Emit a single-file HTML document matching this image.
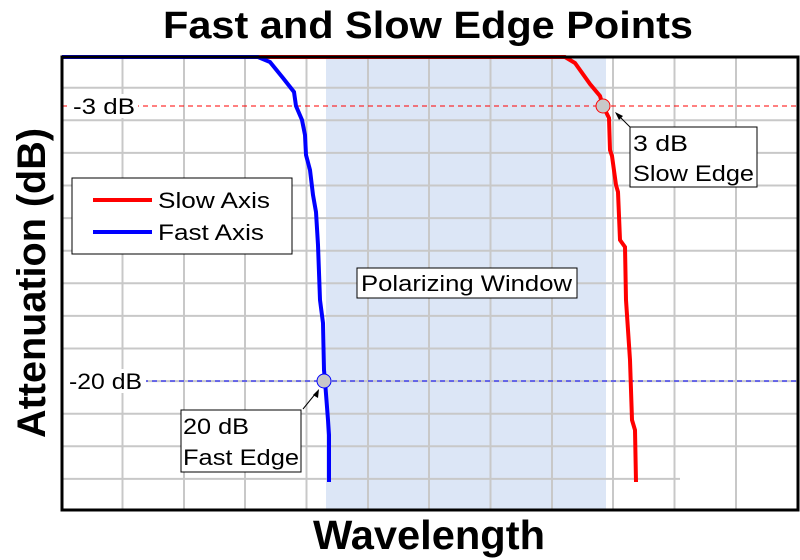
<!DOCTYPE html>
<html><head><style>body{margin:0;background:#fff}svg{display:block}</style></head><body>
<svg width="800" height="560" viewBox="0 0 800 560" xmlns="http://www.w3.org/2000/svg" font-family="Liberation Sans, Arial, sans-serif">
<rect width="800" height="560" fill="#fff"/>
<rect x="326" y="57" width="280" height="453" fill="#dce6f6"/>
<g stroke="#c8c8c8" stroke-width="2">
<line x1="122.5" y1="57" x2="122.5" y2="510"/><line x1="184" y1="57" x2="184" y2="510"/><line x1="245" y1="57" x2="245" y2="510"/><line x1="306.5" y1="57" x2="306.5" y2="510"/><line x1="368" y1="57" x2="368" y2="510"/><line x1="429" y1="57" x2="429" y2="510"/><line x1="490.5" y1="57" x2="490.5" y2="510"/><line x1="552" y1="57" x2="552" y2="510"/><line x1="613" y1="57" x2="613" y2="510"/><line x1="674.5" y1="57" x2="674.5" y2="510"/><line x1="736" y1="57" x2="736" y2="510"/>
<line x1="62" y1="87.7" x2="798" y2="87.7"/><line x1="62" y1="120.3" x2="798" y2="120.3"/><line x1="62" y1="152.9" x2="798" y2="152.9"/><line x1="62" y1="185.5" x2="798" y2="185.5"/><line x1="62" y1="218.1" x2="798" y2="218.1"/><line x1="62" y1="250.7" x2="798" y2="250.7"/><line x1="62" y1="283.3" x2="798" y2="283.3"/><line x1="62" y1="315.9" x2="798" y2="315.9"/><line x1="62" y1="348.5" x2="798" y2="348.5"/><line x1="62" y1="381.1" x2="798" y2="381.1"/><line x1="62" y1="413.7" x2="798" y2="413.7"/><line x1="62" y1="446.3" x2="798" y2="446.3"/><line x1="62" y1="478.9" x2="680" y2="478.9"/>
</g>
<line x1="62" y1="106" x2="798" y2="106" stroke="#f00" stroke-width="1" stroke-dasharray="5,4"/>
<line x1="62" y1="381" x2="798" y2="381" stroke="#00f" stroke-width="1" stroke-dasharray="5,4"/>
<rect x="70" y="94" width="68" height="24" fill="#fff"/>
<text x="73" y="114" font-size="22" textLength="62" lengthAdjust="spacingAndGlyphs">-3 dB</text>
<rect x="62" y="369" width="84" height="24" fill="#fff"/>
<text x="69" y="389" font-size="22" textLength="73" lengthAdjust="spacingAndGlyphs">-20 dB</text>
<polyline fill="none" stroke="#f00" stroke-width="4" points="62,57 565,57 575,63 590,84 600,96 603,106 609,118 610,150 612,156 616,185 618,192 620,240 625,247 626,300 630,360 632,420 635,430 636,482"/>
<polyline fill="none" stroke="#00f" stroke-width="4" points="62,57 258,57 270,62 283,78 294,92 296,106 302,120 305,135 306,155 310,170 313,195 316,212 318,245 320,300 323,323 324,370 325,381 328,420 329,435 329,482"/>
<rect x="62" y="57" width="736" height="453" fill="none" stroke="#000" stroke-width="3"/>
<circle cx="603" cy="106" r="7" fill="#c8c8c8" stroke="#f00" stroke-width="1"/>
<circle cx="324" cy="381" r="7" fill="#c8c8c8" stroke="#00f" stroke-width="1"/>
<line x1="631" y1="128" x2="618" y2="115" stroke="#000" stroke-width="1"/>
<polygon points="615,112 623,116 619,120" fill="#000"/>
<line x1="303" y1="409" x2="316" y2="393" stroke="#000" stroke-width="1"/>
<polygon points="319,389 318,398 313,395" fill="#000"/>
<rect x="72" y="178" width="220" height="76" fill="#fff" stroke="#000" stroke-width="1"/>
<line x1="93" y1="200" x2="152" y2="200" stroke="#f00" stroke-width="4"/>
<line x1="93" y1="232" x2="152" y2="232" stroke="#00f" stroke-width="4"/>
<text x="158" y="208" font-size="22" textLength="112" lengthAdjust="spacingAndGlyphs">Slow Axis</text>
<text x="158" y="240" font-size="22" textLength="106" lengthAdjust="spacingAndGlyphs">Fast Axis</text>
<rect x="357" y="268" width="220" height="30" fill="#fff" stroke="#000" stroke-width="1"/>
<text x="361" y="291" font-size="22" textLength="211" lengthAdjust="spacingAndGlyphs">Polarizing Window</text>
<rect x="630" y="127" width="127" height="60" fill="#fff" stroke="#000" stroke-width="1"/>
<text x="633" y="151" font-size="22" textLength="55" lengthAdjust="spacingAndGlyphs">3 dB</text>
<text x="633" y="181" font-size="22" textLength="121" lengthAdjust="spacingAndGlyphs">Slow Edge</text>
<rect x="181" y="410" width="120" height="62" fill="#fff" stroke="#000" stroke-width="1"/>
<text x="183" y="434" font-size="22" textLength="66" lengthAdjust="spacingAndGlyphs">20 dB</text>
<text x="183" y="465" font-size="22" textLength="116" lengthAdjust="spacingAndGlyphs">Fast Edge</text>
<text x="163" y="38" font-size="38" font-weight="bold" textLength="530" lengthAdjust="spacingAndGlyphs">Fast and Slow Edge Points</text>
<text x="313" y="549" font-size="41" font-weight="bold" textLength="232" lengthAdjust="spacingAndGlyphs">Wavelength</text>
<text transform="translate(45,283) rotate(-90)" font-size="40" font-weight="bold" text-anchor="middle" textLength="310" lengthAdjust="spacingAndGlyphs">Attenuation (dB)</text>
</svg>
</body></html>
